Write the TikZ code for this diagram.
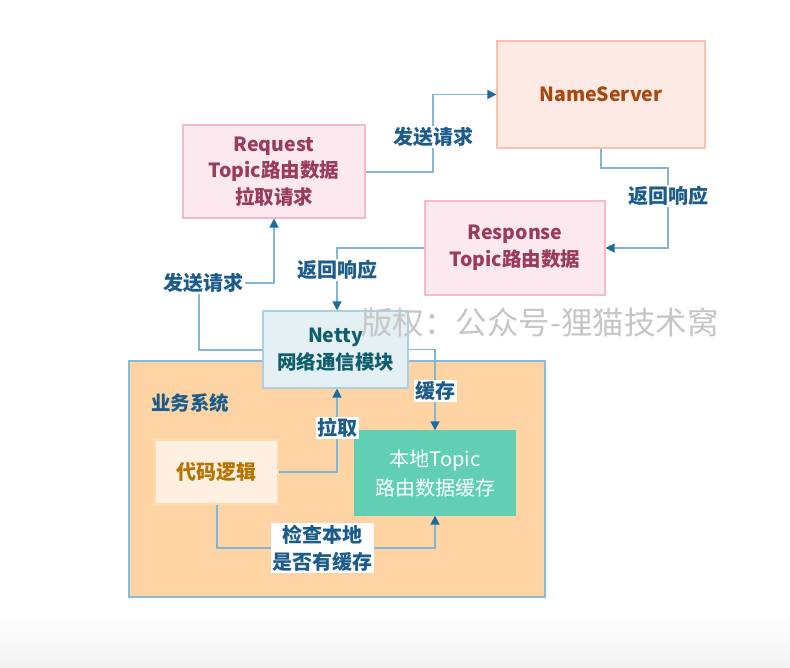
\documentclass[tikz,border=0pt]{standalone}
\usepackage{fontspec}
\setmainfont{Noto Sans CJK SC}
\usetikzlibrary{arrows.meta,calc}
\definecolor{lineC}{HTML}{82B6D2}
\definecolor{tipC}{HTML}{1B6B9E}
\definecolor{lblC}{HTML}{1B5C8C}
\definecolor{nsFill}{HTML}{FDEAE5}
\definecolor{nsDraw}{HTML}{F8C2AE}
\definecolor{nsText}{HTML}{A8480F}
\definecolor{pkFill}{HTML}{FCE9EF}
\definecolor{pkDraw}{HTML}{F4BACB}
\definecolor{pkText}{HTML}{9A3A5C}
\definecolor{ntFill}{HTML}{E5F0F4}
\definecolor{ntDraw}{HTML}{A8D2E3}
\definecolor{ntText}{HTML}{0E5E6C}
\definecolor{bzFill}{HTML}{FFD4A4}
\definecolor{bzDraw}{HTML}{86BBDA}
\definecolor{cdFill}{HTML}{FFF0E2}
\definecolor{cdDraw}{HTML}{FFDAAA}
\definecolor{cdText}{HTML}{B57300}
\definecolor{lcFill}{HTML}{60CFB4}
\definecolor{wmC}{HTML}{C6C6C6}
\begin{document}
\begin{tikzpicture}[x=1pt,y=-1pt,
  box/.style={rectangle, line width=1.2pt, align=center, font=\fontsize{19.5}{26.5}\selectfont\bfseries, inner sep=0pt},
  conn/.style={draw=lineC, line width=1.4pt, -{Triangle[length=9pt,width=9pt,color=tipC]}},
  lbl/.style={text=lblC, font=\fontsize{20}{27}\selectfont\bfseries, fill=white, inner sep=1.5pt, align=center}
]
\useasboundingbox (0,0) rectangle (790,668);
\fill[white] (0,0) rectangle (790,668);
\shade[top color=white, bottom color=black!5] (0,612) rectangle (790,668);

% container
\node[rectangle, fill=bzFill, draw=bzDraw, line width=1.2pt, minimum width=416pt, minimum height=236pt, inner sep=0pt] (biz) at (337,479) {};
\node[text=lblC, font=\fontsize{19.5}{24}\selectfont\bfseries] (bizlbl) at (190,403) {业务系统};

% boxes
\node[box, fill=nsFill, draw=nsDraw, text=nsText, minimum width=208pt, minimum height=107pt] (ns) at (601,94.5) {NameServer};
\node[box, fill=pkFill, draw=pkDraw, text=pkText, minimum width=182pt, minimum height=93pt] (req) at (274,171.5) {Request\\Topic路由数据\\拉取请求};
\node[box, fill=pkFill, draw=pkDraw, text=pkText, minimum width=180pt, minimum height=94pt] (resp) at (515,248) {Response\\Topic路由数据};
\node[box, fill=ntFill, draw=ntDraw, text=ntText, minimum width=145pt, minimum height=77pt, font=\fontsize{19.5}{27}\selectfont\bfseries] (netty) at (335.5,349.5) {Netty\\网络通信模块};
\node[box, fill=cdFill, draw=cdDraw, text=cdText, minimum width=123pt, minimum height=64pt, font=\fontsize{20}{26}\selectfont\bfseries] (code) at (216.5,472) {代码逻辑};
\node[box, fill=lcFill, draw=lcFill, text=white, minimum width=160pt, minimum height=84pt, font=\fontsize{20}{29}\selectfont] (local) at (435,473) {本地Topic\\路由数据缓存};

% watermark
\node[text=wmC, font=\fontsize{31.5}{34}\selectfont] (wm) at (540,322) {版权：公众号-狸猫技术窝};

% coordinates
\coordinate (c1) at (433,172);
\coordinate (c2a) at (601,168);
\coordinate (c2b) at (668,168);
\coordinate (c3) at (337,248);
\coordinate (c4a) at (199,350);
\coordinate (c4b) at (199,283);
\coordinate (c4c) at (274,283);
\coordinate (c7a) at (217,548);
\coordinate (c7b) at (435,548);

% connectors
\draw[conn] (req.east |- c1) -- (c1) |- (ns.west);
\draw[conn] (ns.south -| c2a) -- (c2a) -- (c2b) |- (resp.east);
\draw[conn] (resp.west) -- (c3) -- (c3 |- netty.north);
\draw[conn] (netty.west |- c4a) -- (c4a) -- (c4b) -- (c4c) -- (req.south);
\draw[conn] (netty.east) -| (local.north);
\draw[conn] (code.east) -| ([xshift=1.5pt]netty.south);
\draw[conn] (code.south -| c7a) -- (c7a) -- (c7b) -- (local.south);

% labels
\node[lbl] (l1) at (433,137) {发送请求};
\node[lbl] (l2) at (668,196) {返回响应};
\node[lbl] (l3) at (337,270) {返回响应};
\node[lbl] (l4) at (203,283) {发送请求};
\node[lbl] (l5) at (435,391) {缓存};
\node[lbl] (l6) at (337,428) {拉取};
\node[lbl] (l7) at (322,548) {检查本地\\是否有缓存};
\end{tikzpicture}
\end{document}
